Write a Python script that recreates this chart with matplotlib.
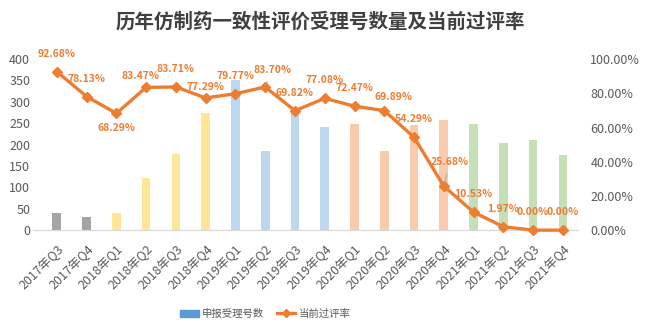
import matplotlib.pyplot as plt
from matplotlib.patches import Patch
from matplotlib.lines import Line2D
from matplotlib.ticker import PercentFormatter

plt.rcParams['font.family'] = ['Noto Sans CJK SC', 'DejaVu Sans']

quarters = ['2017年Q3', '2017年Q4', '2018年Q1', '2018年Q2', '2018年Q3', '2018年Q4',
            '2019年Q1', '2019年Q2', '2019年Q3', '2019年Q4', '2020年Q1', '2020年Q2',
            '2020年Q3', '2020年Q4', '2021年Q1', '2021年Q2', '2021年Q3', '2021年Q4']
counts = [40, 30, 40, 122, 178, 274, 350, 185, 280, 241, 248, 185, 245, 257, 248, 204, 211, 175]
pass_rate = [92.68, 78.13, 68.29, 83.47, 83.71, 77.29, 79.77, 83.70, 69.82, 77.08,
             72.47, 69.89, 54.29, 25.68, 10.53, 1.97, 0.00, 0.00]

# bar colour per year
year_colors = {'2017': '#A5A5A5', '2018': '#FFE699', '2019': '#BDD7EE',
               '2020': '#F8CBAD', '2021': '#C5E0B4'}
orange = '#ED7D31'
grey_txt = '#595959'

# label offsets in pixels (dx, dy); default is straight above
label_offsets = {2: (0, -15), 3: (-6, 11), 5: (0, 11), 7: (7, 17),
                 11: (9, 14), 13: (6, 24)}
leader = {7, 13}

fig = plt.figure(figsize=(6.47, 3.34), dpi=100)
ax = fig.add_axes([0.051, 0.311, 0.842, 0.512])
ax2 = ax.twinx()

x = range(len(quarters))
colors = [year_colors[q[:4]] for q in quarters]
ax.bar(x, counts, width=0.29, color=colors, zorder=1)
ax.set_ylim(0, 400)
ax.set_xlim(-0.8, len(quarters) - 0.5)
ax.set_yticks(range(0, 401, 50))
ax.set_xticks(list(x))
ax.set_xticklabels(quarters, rotation=45, ha='right', rotation_mode='anchor')

ax2.plot(x, pass_rate, color=orange, lw=2.4, marker='D', markersize=5.5,
         clip_on=False, zorder=3)
ax2.set_ylim(0, 100)
ax2.set_yticks(range(0, 101, 20))
ax2.yaxis.set_major_formatter(PercentFormatter(decimals=2))

for i, v in enumerate(pass_rate):
    dx, dy = label_offsets.get(i, (0, 18))
    props = dict(arrowstyle='-', color='#A6A6A6', lw=0.7, shrinkA=3, shrinkB=2) if i in leader else None
    ax2.annotate(f'{v:.2f}%', (i, v), xytext=(dx, dy), textcoords='offset pixels',
                 ha='center', va='center', fontsize=7.5, fontweight='bold',
                 color=orange, arrowprops=props)

for a in (ax, ax2):
    for s in ('top', 'left', 'right'):
        a.spines[s].set_visible(False)
    a.spines['bottom'].set_color('#D9D9D9')
    a.tick_params(length=0, labelsize=9, colors=grey_txt)
ax.tick_params(axis='y', pad=2)
ax.tick_params(axis='x', pad=9)
ax2.tick_params(axis='y', pad=9)

fig.text(0.495, 0.935, '历年仿制药一致性评价受理号数量及当前过评率', ha='center', va='center',
         fontsize=14, fontweight='bold', color='#404040')

handles = [Patch(color='#5B9BD5'),
           Line2D([0], [0], color=orange, lw=2.4, marker='D', markersize=4)]
fig.legend(handles, ['申报受理号数', '当前过评率'], loc='center', ncol=2,
           bbox_to_anchor=(0.41, 0.06), frameon=False, fontsize=7.5,
           labelcolor=grey_txt, handlelength=1.8, columnspacing=1.2,
           handletextpad=0.3)

fig.savefig('out.png', dpi=100)
